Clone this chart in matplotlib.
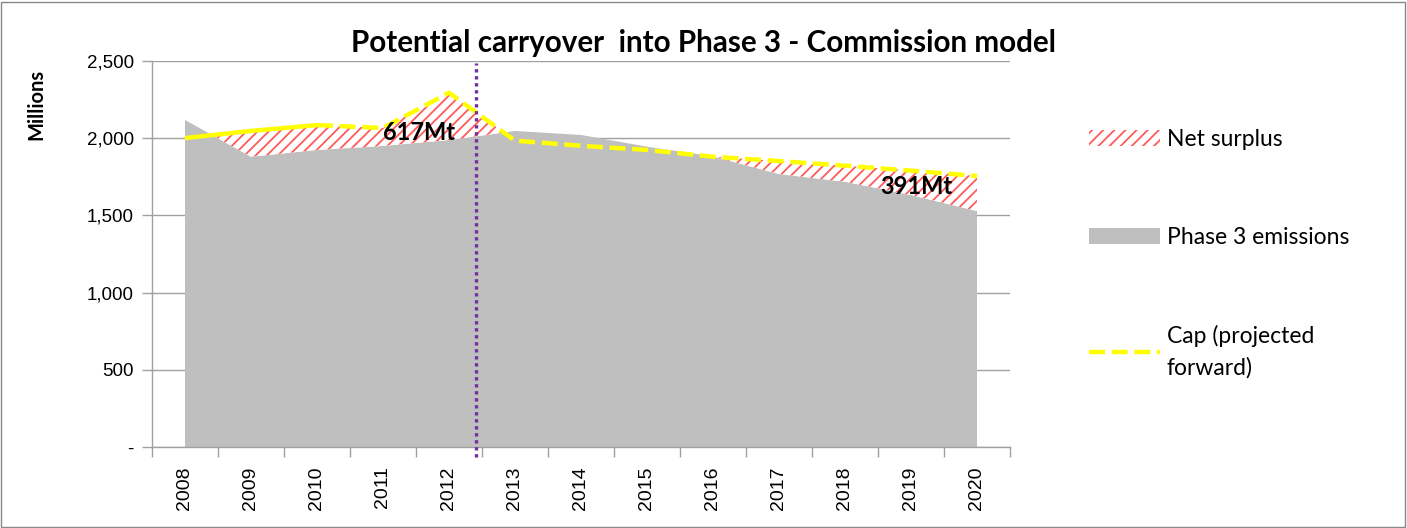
import matplotlib
matplotlib.use("Agg")
import matplotlib.pyplot as plt
from matplotlib.patches import Patch, Rectangle
from matplotlib.lines import Line2D
import numpy as np

years = ["2008", "2009", "2010", "2011", "2012", "2013", "2014",
         "2015", "2016", "2017", "2018", "2019", "2020"]
emissions = [2118, 1880, 1924, 1950, 1988, 2047, 2021,
             1945, 1882, 1768, 1718, 1632, 1528]
cap = [2001, 2047, 2085, 2066, 2295, 1984, 1951,
       1924, 1880, 1852, 1822, 1790, 1755]
surplus_labels = [("617Mt", 3.55, 2034), ("391Mt", 11.08, 1690)]
yticks = [0, 500, 1000, 1500, 2000, 2500]
ytick_labels = ["-", "500", "1,000", "1,500", "2,000", "2,500"]

HATCH_COL = '#FF5A5A'
plt.rcParams['hatch.color'] = HATCH_COL
plt.rcParams['hatch.linewidth'] = 1.3

W, H = 1407, 528
fig = plt.figure(figsize=(W / 100, H / 100), dpi=100)
ax = fig.add_axes([152 / W, 1 - 447 / H, (1010 - 152) / W, (447 - 61) / H])

x = np.arange(len(years))
em = np.array(emissions, dtype=float)
cp = np.array(cap, dtype=float)

ax.fill_between(x, 0, em, facecolor='#BFBFBF', edgecolor='none', linewidth=0, zorder=2)
ax.fill_between(x, em, cp, where=cp >= em, interpolate=True, facecolor='white',
                edgecolor=HATCH_COL, hatch='///', linewidth=0, zorder=2)

# cap line: solid for the first years, dashed for the projection
ax.plot(x[:3], cp[:3], color='#FFFF00', lw=3.2, solid_capstyle='butt', zorder=4)
ax.plot(x[2:], cp[2:], color='#FFFF00', lw=3.2, dashes=(3.6, 1.5), zorder=4)

ax.axvline(4.41, ymin=-0.027, ymax=0.995, color='#7030A0', lw=2.4,
           linestyle=(0, (1, 1.1)), clip_on=False, zorder=5)

for txt, xi, yi in surplus_labels:
    ax.text(xi, yi, txt, ha='center', va='center', fontsize=17,
            fontweight='bold', family='Lato', zorder=6)

ax.set_xlim(-0.5, 12.5)
ax.set_ylim(0, 2500)
ax.set_yticks(yticks)
ax.set_yticklabels(ytick_labels, family='Liberation Sans', fontsize=13.5)
ax.set_xticks(x)
ax.set_xticklabels(years, rotation=90, family='Liberation Sans', fontsize=14)
ax.set_xticks(np.arange(-0.5, 13, 1), minor=True)
ax.tick_params(axis='x', which='major', length=0, pad=14)
ax.tick_params(axis='x', which='minor', length=7, color='#A0A0A0', width=1)
ax.tick_params(axis='y', length=7, color='#A0A0A0', width=1, pad=6)

ax.grid(axis='y', color='#A0A0A0', lw=1, zorder=1)
ax.set_axisbelow(True)
for s in ['top', 'right']:
    ax.spines[s].set_visible(False)
for s in ['left', 'bottom']:
    ax.spines[s].set_color('#A0A0A0')
    ax.spines[s].set_linewidth(1)
    ax.spines[s].set_zorder(3)

fig.text(36 / W, 1 - 104 / H, "Millions", rotation=90, ha='center', va='center',
         family='Lato', fontweight='bold', fontsize=14.5)

fig.text(0.5, 1 - 52 / H, "Potential carryover  into Phase 3 - Commission model",
         ha='center', va='baseline', fontsize=21.3, fontweight='bold', family='Lato')

handles = [
    Patch(facecolor='white', edgecolor=HATCH_COL, hatch='///', linewidth=0, label='Net surplus'),
    Patch(facecolor='#BFBFBF', edgecolor='none', label='Phase 3 emissions'),
    Line2D([0], [0], color='#FFFF00', lw=3.2, dashes=(3.6, 1.5), label='Cap (projected\nforward)'),
]
leg = ax.legend(handles=handles, loc='upper left', bbox_to_anchor=(1089 / W, 1 - 129 / H),
                bbox_transform=fig.transFigure, frameon=False, prop={'family': 'Lato', 'size': 16.5},
                handlelength=3.1, handleheight=0.7, handletextpad=0.3, labelspacing=3.35,
                borderaxespad=0, borderpad=0)
for t in leg.get_texts():
    t.set_linespacing(1.6)

fig.patches.append(Rectangle((0.001, 0.001), 0.9975, 0.995, transform=fig.transFigure,
                             fill=False, edgecolor='#888888', lw=1))

fig.savefig("out.png", dpi=100)
